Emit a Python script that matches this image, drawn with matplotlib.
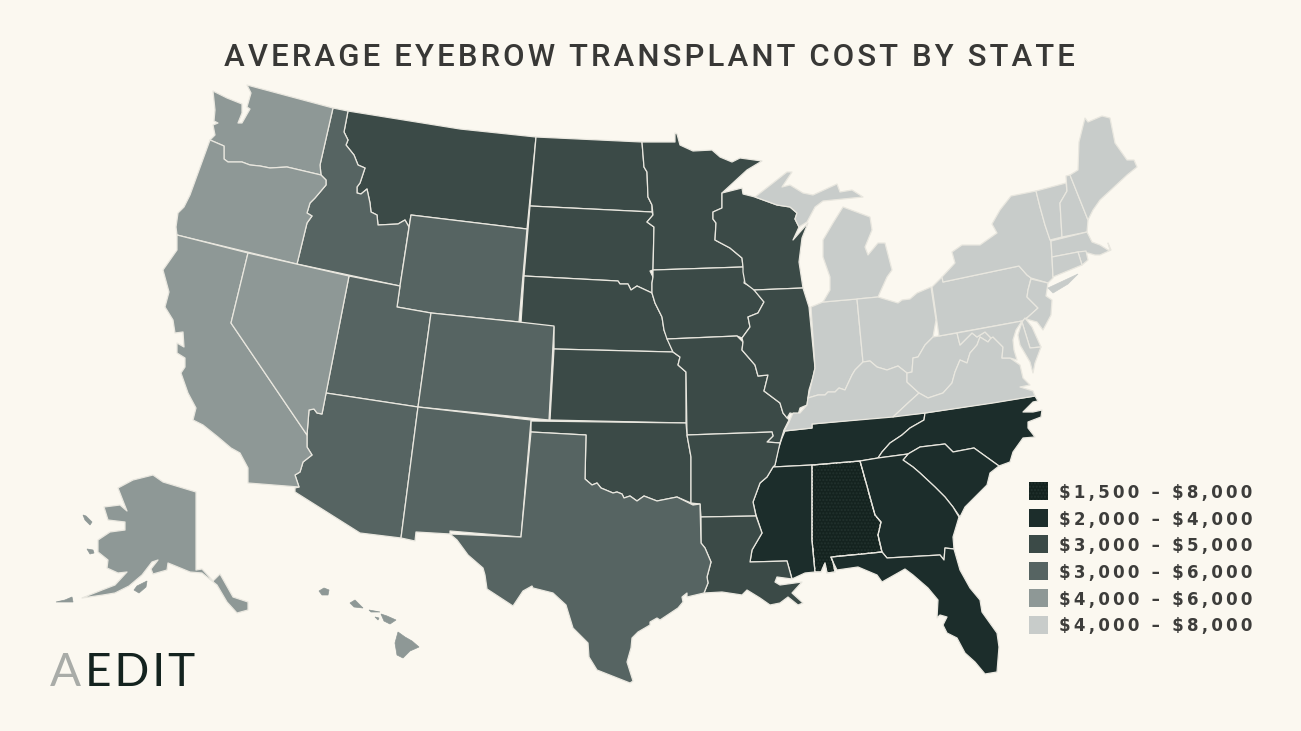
import matplotlib
matplotlib.use('Agg')
import matplotlib.pyplot as plt
from matplotlib.patches import Polygon, Rectangle

# state outlines in pixels
WA = [(247,85),(333,108),(320,165),(321,175),(287,167),(270,168),(260,166),(250,165),(242,162),(228,162),(224,159),(224,146),(210,140),(215,135),(213,125),(218,123),(214,121),(215,110),(213,91),(227,98),(242,104),(242,113),(238,123),(242,123),(250,109),(247,107),(251,93)]
OR = [(210,140),(224,146),(224,159),(228,162),(242,162),(250,165),(260,166),(270,168),(287,167),(321,175),(326,180),(326,185),(315,198),(310,203),(307,213),(312,216),(307,223),(297,264),(177,235),(176,227),(178,213),(184,207),(190,195)]
CA = [(177,235),(248,253),(231,323),(307,435),(307,447),(312,455),(303,462),(300,472),(295,475),(299,487),(248,483),(248,468),(240,453),(231,448),(218,437),(203,425),(193,420),(196,408),(188,393),(181,373),(185,367),(185,358),(177,353),(177,343),(184,347),(183,332),(175,333),(173,320),(165,307),(169,292),(163,270),(177,250)]
NV = [(248,253),(349,276),(322,414),(317,413),(314,409),(309,410),(307,435),(231,323)]
ID = [(333,108),(348,111),(344,132),(348,140),(346,145),(354,155),(358,165),(365,168),(360,183),(357,187),(357,193),(361,194),(367,189),(370,203),(371,212),(377,215),(378,225),(398,224),(405,220),(409,227),(400,286),(297,264),(307,223),(312,216),(307,213),(310,203),(315,198),(326,185),(326,180),(321,175),(320,165)]
MT = [(348,111),(460,129),(536,137),(527,229),(411,215),(409,227),(405,220),(398,224),(378,225),(377,215),(371,212),(370,203),(367,189),(361,194),(357,193),(357,187),(360,183),(365,168),(358,165),(354,155),(346,145),(348,140),(344,132)]
WY = [(411,215),(527,229),(519,322),(431,313),(397,307),(400,286)]
UT = [(349,276),(400,286),(397,307),(431,313),(418,407),(326,393)]
CO = [(431,313),(519,322),(554,326),(549,420),(418,407)]
AZ = [(326,393),(418,407),(401,538),(360,533),(295,492),(295,488),(299,487),(295,475),(300,472),(303,462),(312,455),(307,447),(307,435),(309,410),(314,409),(317,413),(322,414)]
NM = [(418,407),(531,420),(521,537),(450,531),(450,534),(416,532),(415,541),(401,538)]
TX = [(531,432),(586,435),(585,479),(592,485),(597,483),(601,488),(613,493),(617,492),(622,494),(624,498),(630,496),(637,501),(644,496),(657,501),(677,497),(693,505),(700,504),(701,543),(705,548),(711,562),(707,577),(708,583),(704,593),(687,597),(687,593),(682,597),(683,602),(678,608),(660,620),(657,618),(650,622),(650,625),(638,632),(632,638),(631,648),(627,662),(633,681),(630,683),(597,670),(589,657),(588,643),(573,628),(566,605),(553,593),(533,588),(532,586),(523,591),(513,606),(487,589),(485,575),(483,568),(468,555),(457,540),(450,534),(521,537)]
OK = [(531,421),(686,423),(687,435),(691,457),(691,503),(677,497),(657,501),(644,496),(637,501),(630,496),(624,498),(622,494),(617,492),(613,493),(601,488),(597,483),(592,485),(585,479),(586,435),(531,432)]
KS = [(554,349),(673,352),(680,357),(678,365),(686,372),(686,423),(550,420)]
NE = [(524,276),(618,281),(620,284),(628,284),(631,290),(637,286),(652,293),(655,303),(662,317),(664,330),(673,352),(554,349),(554,327),(521,323)]
SD = [(530,206),(652,212),(653,215),(647,222),(654,227),(653,270),(650,271),(653,277),(652,283),(652,293),(637,286),(631,290),(628,284),(620,284),(618,281),(524,276)]
ND = [(536,137),(642,142),(644,167),(647,172),(648,197),(652,205),(652,212),(530,206)]
MN = [(642,142),(675,142),(675,133),(677,134),(680,145),(693,151),(712,150),(720,157),(732,162),(740,158),(762,161),(747,170),(722,193),(722,208),(713,212),(713,219),(716,223),(715,240),(730,248),(742,258),(743,267),(653,270),(654,227),(647,222),(653,215),(652,205),(648,197),(647,172),(644,167)]
WI = [(722,193),(742,188),(743,194),(755,197),(777,205),(790,207),(797,213),(795,219),(799,227),(793,240),(808,223),(802,238),(799,262),(803,288),(754,290),(745,283),(743,272),(743,267),(742,258),(730,248),(715,240),(716,223),(713,219),(713,212),(722,208)]
IA = [(653,270),(743,267),(746,273),(744,283),(753,288),(764,302),(758,313),(748,317),(750,327),(742,338),(737,336),(667,339),(664,330),(662,317),(655,303),(652,293),(652,283),(653,277)]
MO = [(667,339),(737,336),(743,342),(742,350),(755,365),(758,376),(768,375),(764,391),(780,403),(783,413),(789,420),(784,430),(780,443),(767,442),(773,436),(772,432),(687,435),(686,372),(678,365),(680,357),(673,352)]
IL = [(754,290),(803,288),(809,307),(815,368),(813,377),(809,390),(807,405),(800,408),(798,415),(790,413),(787,418),(783,413),(780,403),(764,391),(768,375),(758,376),(755,365),(742,350),(743,342),(742,338),(750,327),(748,317),(758,313),(764,302)]
IN = [(811,307),(823,302),(857,299),(863,362),(855,370),(852,375),(845,390),(839,388),(835,392),(828,392),(825,395),(818,395),(808,398),(815,368)]
MI_LOWER = [(823,302),(830,290),(830,277),(823,257),(823,240),(833,223),(843,207),(870,217),(872,230),(865,247),(868,255),(878,243),(885,243),(892,270),(887,277),(878,297),(857,299)]
MI_UPPER = [(755,197),(773,183),(787,172),(792,172),(782,187),(790,185),(803,193),(813,195),(837,184),(840,192),(852,190),(863,197),(843,199),(823,201),(815,207),(807,222),(799,227),(795,219),(797,213),(790,207),(777,205)]
OH = [(857,299),(878,297),(898,303),(902,300),(910,299),(917,293),(931,287),(936,320),(933,337),(925,345),(918,357),(913,358),(912,372),(907,373),(898,366),(887,370),(877,367),(870,361),(863,362)]
KY = [(863,362),(870,361),(877,367),(887,370),(898,366),(907,373),(907,382),(919,393),(908,403),(893,417),(812,424),(812,428),(784,431),(789,422),(793,413),(800,413),(807,405),(808,398),(818,395),(825,395),(828,392),(835,392),(839,388),(845,390),(852,375),(855,370)]
WV = [(933,337),(939,336),(957,333),(960,345),(972,333),(977,337),(985,332),(991,338),(988,342),(980,337),(977,345),(970,353),(967,363),(960,360),(955,372),(952,383),(943,393),(928,398),(919,393),(907,382),(907,373),(912,372),(913,358),(918,357),(925,345)]
VA = [(893,417),(908,403),(919,393),(928,398),(943,393),(952,383),(955,372),(960,360),(967,363),(970,353),(977,345),(980,337),(988,342),(991,338),(993,337),(1003,347),(1002,358),(1010,358),(1020,365),(1023,378),(1030,385),(1020,387),(1033,391),(1035,396),(993,403),(925,413)]
PA = [(942,277),(943,282),(1019,266),(1027,275),(1031,278),(1028,290),(1027,297),(1032,302),(1038,308),(1028,317),(1022,321),(939,336),(932,287)]
NY = [(942,277),(955,263),(952,252),(962,245),(980,245),(997,233),(992,224),(1000,210),(1011,196),(1036,191),(1040,207),(1045,225),(1051,242),(1052,257),(1053,278),(1048,283),(1031,278),(1027,275),(1019,266),(943,282)]
LONG_ISLAND = [(1048,288),(1078,274),(1068,284),(1053,293)]
NJ = [(1031,279),(1048,283),(1046,296),(1052,300),(1051,315),(1043,330),(1037,322),(1026,319),(1028,317),(1038,308),(1032,302),(1027,297),(1028,290)]
VT = [(1036,191),(1066,183),(1067,191),(1060,203),(1062,237),(1050,240),(1045,225),(1040,207)]
NH = [(1066,176),(1070,175),(1088,220),(1087,232),(1062,237),(1060,203),(1067,191)]
ME = [(1070,175),(1078,170),(1079,142),(1085,118),(1088,122),(1102,116),(1110,118),(1115,143),(1127,160),(1134,160),(1137,167),(1127,175),(1113,188),(1100,200),(1093,210),(1088,220)]
MA = [(1051,241),(1087,232),(1092,242),(1100,245),(1108,250),(1110,250),(1108,243),(1111,250),(1100,255),(1095,255),(1088,253),(1078,252),(1052,257)]
RI = [(1078,252),(1086,251),(1088,260),(1082,265)]
CT = [(1052,257),(1078,252),(1082,265),(1053,277)]
DE = [(1025,318),(1022,322),(1030,348),(1041,347),(1032,327)]
MD_WEST = [(957,333),(1022,321),(1016,330),(1013,340),(1014,350),(1017,360),(1010,358),(1002,358),(1003,347),(993,337),(991,338),(985,332),(977,337),(972,333),(960,345)]
MD_EAST = [(1022,322),(1030,348),(1041,347),(1035,363),(1033,373),(1030,362),(1020,345),(1018,335)]
TN = [(785,431),(812,428),(812,424),(925,413),(924,420),(910,428),(902,435),(890,443),(882,452),(878,458),(860,461),(812,465),(773,467),(775,465),(778,450),(782,438)]
NC = [(925,413),(1035,396),(1038,401),(1033,402),(1023,412),(1033,412),(1042,410),(1041,417),(1028,422),(1028,428),(1035,437),(1023,438),(1013,452),(1010,462),(999,466),(974,448),(953,452),(945,444),(920,447),(908,454),(878,458),(882,452),(890,443),(902,435),(910,428),(924,420)]
SC = [(903,460),(908,454),(920,447),(945,444),(953,452),(974,448),(999,466),(990,473),(987,485),(965,507),(960,517),(953,507),(945,497),(935,487),(920,473),(913,467)]
GA = [(860,461),(878,458),(908,454),(903,460),(913,467),(920,473),(935,487),(945,497),(953,507),(959,517),(953,537),(954,549),(945,548),(944,560),(940,555),(887,558),(882,552),(878,535),(881,522),(875,515)]
FL = [(831,557),(882,552),(887,558),(940,555),(944,560),(945,548),(954,549),(960,570),(970,588),(980,600),(982,612),(997,633),(999,647),(997,672),(985,674),(975,662),(965,653),(957,638),(947,633),(943,625),(947,617),(940,615),(937,618),(938,600),(928,588),(913,575),(905,569),(882,582),(877,575),(858,567),(837,570),(833,562)]
AL = [(812,465),(860,461),(875,515),(881,522),(878,535),(882,552),(831,557),(833,562),(835,572),(827,573),(825,563),(821,572),(815,572),(812,540)]
MS = [(773,467),(812,465),(812,540),(815,572),(805,573),(792,579),(787,561),(750,562),(752,550),(762,533),(756,515),(753,502),(760,483),(767,477)]
LA = [(701,517),(756,516),(762,533),(752,550),(750,562),(787,561),(792,579),(777,577),(775,582),(780,585),(802,582),(792,593),(803,603),(798,605),(788,597),(780,603),(770,605),(760,598),(747,590),(742,595),(722,592),(704,593),(708,583),(707,577),(711,562),(705,548),(701,543)]
AR = [(687,435),(772,432),(773,436),(767,442),(780,443),(775,465),(773,467),(767,477),(760,483),(753,502),(756,516),(701,517),(700,504),(691,503),(691,457)]
AK = [(153,475),(163,482),(196,492),(196,570),(202,569),(213,581),(220,574),(233,597),(248,602),(248,610),(237,613),(227,602),(217,585),(202,573),(190,572),(173,565),(168,563),(167,570),(153,574),(151,569),(158,560),(152,562),(142,575),(129,586),(115,593),(103,595),(82,598),(102,590),(115,585),(127,572),(118,573),(107,568),(108,560),(98,552),(98,540),(110,532),(125,530),(125,522),(108,520),(104,507),(120,505),(127,511),(118,488),(133,480)]
AK_KODIAK = [(134,590),(137,586),(147,581),(146,587),(139,593)]
AK_NUNIVAK = [(87,549),(93,550),(94,553),(90,554)]
AK_ST_LAWRENCE = [(83,515),(86,516),(92,522),(90,525),(85,520)]
AK_ALEUTIANS = [(56,602),(65,600),(72,597),(73,602),(62,602)]
HI_BIG = [(398,632),(405,637),(412,641),(419,647),(410,651),(403,658),(397,655),(395,643)]
HI_MAUI = [(381,614),(387,616),(396,620),(390,624),(384,621)]
HI_LANAI = [(375,617),(379,618),(378,620)]
HI_MOLOKAI = [(369,610),(380,612),(371,612)]
HI_OAHU = [(350,603),(355,600),(363,608),(354,607)]
HI_KAUAI = [(319,591),(324,588),(329,590),(328,595),(322,595)]

# price bracket of each group of states, same order as the legend
price_ranges = ['$1,500 – $8,000', '$2,000 – $4,000', '$3,000 – $5,000', '$3,000 – $6,000', '$4,000 – $6,000', '$4,000 – $8,000']
tier_colors = ['#14231f', '#1c2d2b', '#3b4a47', '#566462', '#8e9896', '#c8ccca']
tier0 = [AL]
tier1 = [TN, NC, SC, GA, FL, MS]
tier2 = [MT, ND, SD, NE, KS, MN, IA, MO, WI, IL, OK, AR, LA]
tier3 = [ID, WY, UT, CO, AZ, NM, TX]
tier4 = [WA, OR, CA, NV, AK]
tier5 = [IN, MI_LOWER, MI_UPPER, OH, KY, WV, VA, PA, NY, NJ, VT, NH, ME, MA, RI, CT, DE, MD_WEST, MD_EAST]
tiers = [tier0, tier1, tier2, tier3, tier4, tier5]
# small pieces, an outline would eat them
islands4 = [AK_KODIAK, AK_NUNIVAK, AK_ST_LAWRENCE, AK_ALEUTIANS, HI_BIG, HI_MAUI, HI_LANAI, HI_MOLOKAI, HI_OAHU, HI_KAUAI]
islands5 = [LONG_ISLAND]

title = 'AVERAGE EYEBROW TRANSPLANT COST BY STATE'
bg = '#fbf8f0'
border = '#e9e7df'
dots = '#22322e'
HAIR = '\u200a'


def spaced(s, n=1):
	return (HAIR * n).join(s)

def drawStates(ax):
	for shapes, color in zip(tiers, tier_colors):
		for pts in shapes:
			ax.add_patch(Polygon(pts, closed=True, facecolor=color, edgecolor=border, linewidth=0.9, joinstyle='round'))
	for pts in islands4:
		ax.add_patch(Polygon(pts, closed=True, facecolor=tier_colors[4], edgecolor=tier_colors[4], linewidth=0.5))
	for pts in islands5:
		ax.add_patch(Polygon(pts, closed=True, facecolor=tier_colors[5], edgecolor=tier_colors[5], linewidth=0.5))
	# the top bracket is printed with a fine screen of dots, outline goes back on top
	ax.add_patch(Polygon(AL, closed=True, facecolor='none', edgecolor=dots, linewidth=0, hatch='.....'))
	ax.add_patch(Polygon(AL, closed=True, facecolor='none', edgecolor=border, linewidth=0.9, joinstyle='round'))

def drawLegend(ax):
	for i, (label, color) in enumerate(zip(price_ranges, tier_colors)):
		y = 482 + i * 26.7
		ax.add_patch(Rectangle((1029, y), 18.5, 18, facecolor=color, edgecolor='none'))
		if i == 0:
			ax.add_patch(Rectangle((1029, y), 18.5, 18, facecolor='none', edgecolor=dots, linewidth=0, hatch='.....'))
		ax.text(1059, y + 11, spaced(label, 2), family=['DejaVu Sans'], fontsize=12, weight='bold',
			color='#3d3d3b', va='center', ha='left', parse_math=False)

def drawText(ax):
	ax.text(649, 57, spaced(title, 1), family=['Roboto', 'DejaVu Sans'], fontsize=22.4, weight='medium',
		color='#383836', va='center', ha='center')
	ax.text(50, 686, 'A', family=['Lato'], fontsize=33, weight='normal', color='#a9aca8', va='baseline', ha='left')
	ax.text(85, 686, spaced('EDIT', 1), family=['Lato', 'DejaVu Sans'], fontsize=33, weight='normal', color='#14231f', va='baseline', ha='left')

def main():
	fig = plt.figure(figsize=(13.01, 7.31), facecolor=bg)
	ax = fig.add_axes((0,0,1,1))  # no margins, axes units are picture pixels
	ax.set_xlim(0, 1301)
	ax.set_ylim(731, 0)
	ax.axis('off')
	drawStates(ax)
	drawLegend(ax)
	drawText(ax)
	fig.savefig('out.png', dpi=100, facecolor=bg)

if __name__ == '__main__':
	main()
